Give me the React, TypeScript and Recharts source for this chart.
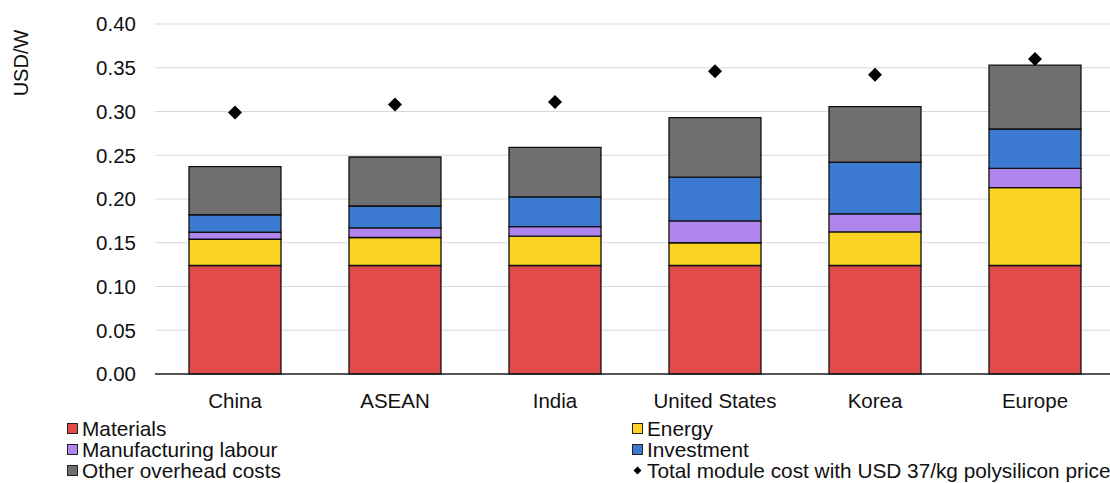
import { ComposedChart, Bar, Scatter, XAxis, YAxis, CartesianGrid, Label } from "recharts";

const regions = ["China", "ASEAN", "India", "United States", "Korea", "Europe"];
const materials = [0.124, 0.124, 0.124, 0.124, 0.124, 0.124];
const energy = [0.030, 0.032, 0.0335, 0.026, 0.0385, 0.089];
const labour = [0.008, 0.011, 0.011, 0.025, 0.0205, 0.022];
const investment = [0.020, 0.025, 0.034, 0.050, 0.059, 0.045];
const overhead = [0.055, 0.056, 0.0565, 0.068, 0.0635, 0.073];
const totalCost = [0.299, 0.308, 0.311, 0.346, 0.342, 0.360];
const yTicks = [0, 0.05, 0.1, 0.15, 0.2, 0.25, 0.3, 0.35, 0.4];

const FONT = "'Liberation Sans', Arial, sans-serif";
const TEXT = "#111";

const series = [
  { key: "materials", name: "Materials", color: "#E14B4A" },
  { key: "energy", name: "Energy", color: "#FDD323" },
  { key: "labour", name: "Manufacturing labour", color: "#B086EC" },
  { key: "investment", name: "Investment", color: "#3C7AD2" },
  { key: "overhead", name: "Other overhead costs", color: "#6E6F6E" },
];

const data = regions.map((region, i) => ({
  region,
  materials: materials[i],
  energy: energy[i],
  labour: labour[i],
  investment: investment[i],
  overhead: overhead[i],
  total: totalCost[i],
}));

const Diamond = (props: any) => {
  const { cx, cy } = props;
  const r = 7;
  return <polygon points={`${cx},${cy - r} ${cx + r},${cy} ${cx},${cy + r} ${cx - r},${cy}`} fill="#000" />;
};

const legendItems = [
  { name: "Materials", color: "#E14B4A" },
  { name: "Energy", color: "#FDD323" },
  { name: "Manufacturing labour", color: "#B086EC" },
  { name: "Investment", color: "#3C7AD2" },
  { name: "Other overhead costs", color: "#6E6F6E" },
  { name: "Total module cost with USD 37/kg polysilicon price", color: null },
];

const LegendBlock = () => (
  <div
    style={{
      position: "absolute",
      top: 418,
      left: 0,
      width: 1200,
      fontFamily: FONT,
      fontSize: 20.8,
      lineHeight: "21px",
      color: TEXT,
      whiteSpace: "nowrap",
    }}
  >
    {legendItems.map((item, i) => (
      <div
        key={item.name}
        style={{
          position: "absolute",
          left: i % 2 === 0 ? 67 : 632,
          top: Math.floor(i / 2) * 21,
          display: "flex",
          alignItems: "center",
          height: 21,
        }}
      >
        {item.color ? (
          <span
            style={{
              display: "inline-block",
              width: 9,
              height: 9,
              background: item.color,
              border: "1px solid #222",
              marginRight: 4,
            }}
          />
        ) : (
          <svg width={11} height={11} style={{ marginRight: 4 }}>
            <polygon points="5.5,1.5 9.5,5.5 5.5,9.5 1.5,5.5" fill="#000" />
          </svg>
        )}
        <span>{item.name}</span>
      </div>
    ))}
  </div>
);

const App = () => {
  return (
    <div
      style={{
        position: "fixed",
        top: 0,
        left: 0,
        width: 1110,
        height: 483,
        overflow: "hidden",
        background: "#fff",
      }}
    >
      <ComposedChart
        width={1125}
        height={420}
        data={data}
        margin={{ top: 24, right: 10, bottom: 16, left: 0 }}
      >
        <CartesianGrid vertical={false} stroke="#d9d9d9" strokeWidth={1} />
        <XAxis
          dataKey="region"
          height={30}
          tickLine={false}
          tickMargin={13}
          axisLine={{ stroke: "#222", strokeWidth: 1.5 }}
          tick={{ fill: TEXT, fontSize: 20.5, fontFamily: FONT }}
          interval={0}
        />
        <YAxis
          width={155}
          domain={[0, 0.4]}
          ticks={yTicks}
          tickFormatter={(v: number) => v.toFixed(2)}
          axisLine={false}
          tickLine={false}
          tickMargin={13}
          tick={{ fill: TEXT, fontSize: 20.5, fontFamily: FONT }}
        >
          <Label
            content={(p: any) => {
              const vb = p.viewBox || { x: 0, y: 24 };
              const x = vb.x + 20.5;
              const y = vb.y + 39;
              return (
                <text
                  x={x}
                  y={y}
                  transform={`rotate(-90, ${x}, ${y})`}
                  textAnchor="middle"
                  dominantBaseline="central"
                  fill={TEXT}
                  fontSize={20}
                  fontFamily={FONT}
                >
                  USD/W
                </text>
              );
            }}
          />
        </YAxis>
        {series.map((s) => (
          <Bar
            key={s.key}
            dataKey={s.key}
            name={s.name}
            stackId="cost"
            fill={s.color}
            stroke="#111"
            strokeWidth={1.3}
            barSize={92}
            isAnimationActive={false}
          />
        ))}
        <Scatter dataKey="total" name="Total module cost with USD 37/kg polysilicon price" shape={<Diamond />} isAnimationActive={false} />
      </ComposedChart>
      <LegendBlock />
    </div>
  );
};

export default App;
